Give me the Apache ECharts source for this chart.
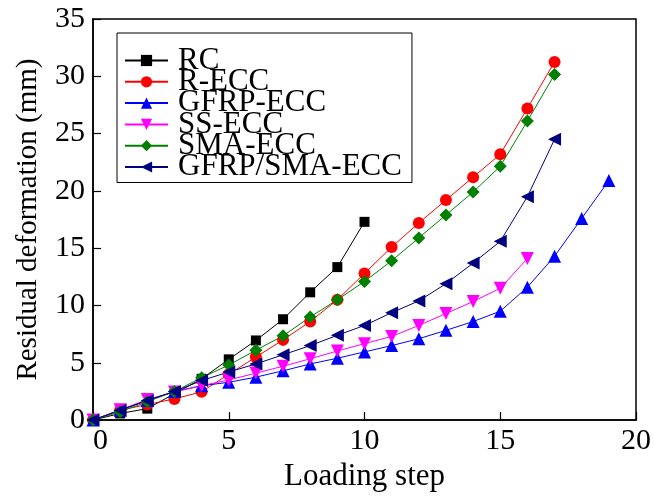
<!DOCTYPE html>
<html>
<head>
<meta charset="utf-8">
<script src="https://cdn.jsdelivr.net/npm/echarts@6/dist/echarts.min.js"></script>
<style>html,body{margin:0;padding:0;background:#fff}#c{width:654px;height:497px}</style>
</head>
<body>
<div id="c"></div>
<script>
var seriesNames = ['RC', 'R-ECC', 'GFRP-ECC', 'SS-ECC', 'SMA-ECC', 'GFRP/SMA-ECC'];
var rc      = [0, 0.58, 1.0, 2.3, 3.6, 5.3, 6.95, 8.8, 11.15, 13.35, 17.3];
var recc    = [0, 0.87, 1.36, 1.85, 2.47, 4.0, 5.5, 7.0, 8.6, 10.5, 12.8, 15.1, 17.2, 19.2, 21.2, 23.2, 27.2, 31.25];
var gfrp    = [0, 0.87, 1.7, 2.5, 3.0, 3.3, 3.75, 4.3, 4.9, 5.4, 5.95, 6.5, 7.1, 7.83, 8.6, 9.5, 11.6, 14.3, 17.6, 20.9];
var ss      = [0, 0.9, 1.8, 2.45, 3.0, 3.5, 4.1, 4.7, 5.35, 6.03, 6.67, 7.3, 8.26, 9.3, 10.35, 11.5, 14.1];
var sma     = [0, 0.73, 1.6, 2.5, 3.7, 4.8, 6.1, 7.35, 9.0, 10.5, 12.1, 13.9, 15.9, 17.9, 19.9, 22.15, 26.1, 30.15];
var gfrpsma = [0, 0.87, 1.72, 2.5, 3.45, 4.2, 4.9, 5.7, 6.5, 7.4, 8.26, 9.37, 10.4, 11.9, 13.7, 15.6, 19.5, 24.5];
var xTicks = [0, 5, 10, 15, 20];
var yTicks = [0, 5, 10, 15, 20, 25, 30, 35];

var allData = [rc, recc, gfrp, ss, sma, gfrpsma];
var colors = ['#000000', '#ff0000', '#0000ff', '#ff00ff', '#008000', '#000080'];
var symbols = ['rect', 'circle', 'triangle', 'path://M0,0 L10,0 L5,9 Z', 'diamond', 'path://M0,5 L9,0 L9,10 Z'];
var sizes = [10, 12, 13, 13, 13, 13];
var font = '"Liberation Serif", "Times New Roman", serif';

function pairs(arr) { return arr.map(function (v, i) { return [i, v]; }); }

var series = allData.map(function (d, k) {
  return {
    name: seriesNames[k], type: 'line', data: pairs(d),
    symbol: symbols[k], symbolSize: sizes[k], showAllSymbol: true,
    lineStyle: { color: colors[k], width: 1 },
    itemStyle: { color: colors[k] },
    animation: false
  };
});

var chart = echarts.init(document.getElementById('c'), null, { renderer: 'canvas' });
chart.setOption({
  backgroundColor: '#fff',
  textStyle: { fontFamily: font },
  grid: { left: 93, right: 17, top: 19, bottom: 75, show: true, borderColor: '#000', borderWidth: 1.5, backgroundColor: 'transparent' },
  legend: {
    orient: 'vertical', left: 117, top: 33,
    padding: [12, 10, 0, 7], itemGap: -9.7, itemWidth: 43, itemHeight: 14,
    borderColor: '#000', borderWidth: 1, backgroundColor: '#fff',
    textStyle: { fontFamily: font, fontSize: 31, color: '#000', padding: [0, 0, 0, 5] },
    data: seriesNames
  },
  xAxis: {
    type: 'value', min: 0, max: 20, interval: 5,
    name: 'Loading step', nameLocation: 'middle', nameGap: 39,
    nameTextStyle: { fontFamily: font, fontSize: 31, color: '#000' },
    axisLine: { lineStyle: { color: '#000', width: 1.5 } },
    axisTick: { inside: true, length: 8, lineStyle: { color: '#000', width: 1.2 } },
    axisLabel: { fontFamily: font, fontSize: 30, color: '#000', margin: 6, alignMinLabel: 'left',
      formatter: function (v) { return xTicks.indexOf(v) >= 0 ? String(v) : ''; } },
    splitLine: { show: false }
  },
  yAxis: {
    type: 'value', min: 0, max: 35, interval: 5,
    name: 'Residual deformation (mm)', nameLocation: 'middle', nameGap: 50,
    nameTextStyle: { fontFamily: font, fontSize: 29, color: '#000' },
    axisLine: { lineStyle: { color: '#000', width: 1.5 } },
    axisTick: { inside: true, length: 8, lineStyle: { color: '#000', width: 1.2 } },
    axisLabel: { fontFamily: font, fontSize: 30, color: '#000', margin: 8,
      formatter: function (v) { return yTicks.indexOf(v) >= 0 ? String(v) : ''; } },
    splitLine: { show: false }
  },
  series: series
});
</script>
</body>
</html>
